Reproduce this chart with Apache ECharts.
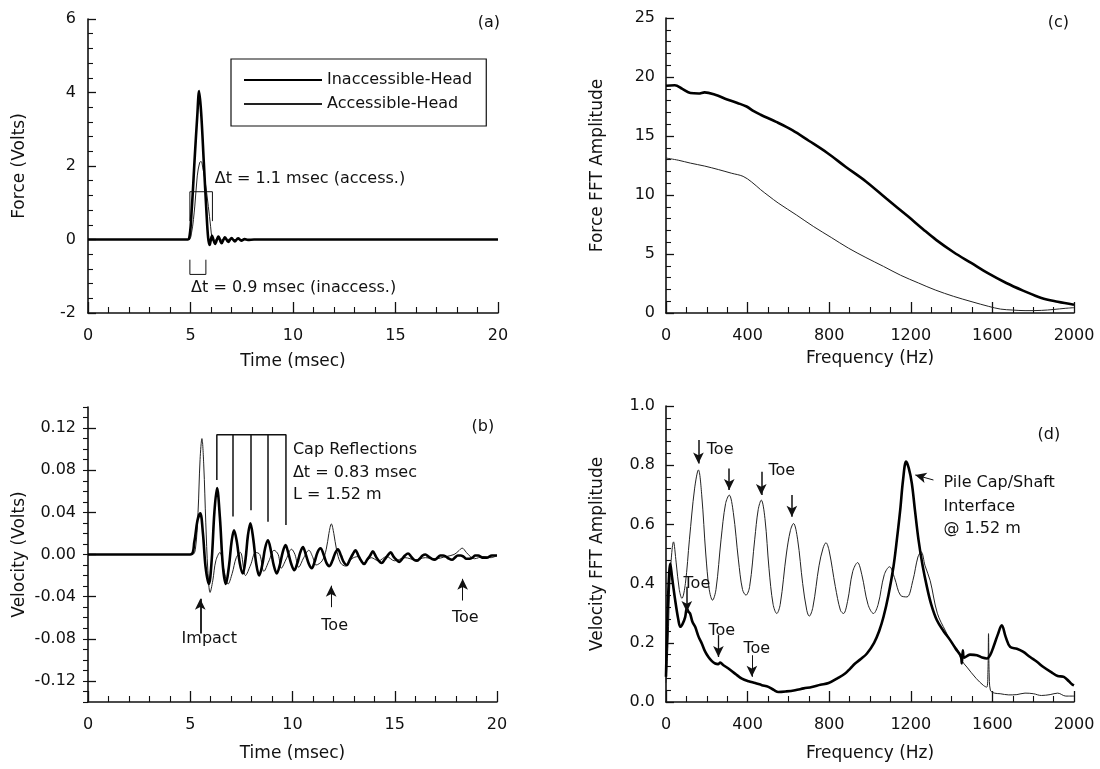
<!DOCTYPE html>
<html><head><meta charset="utf-8">
<script src="https://cdn.jsdelivr.net/npm/echarts@6/dist/echarts.min.js"></script>
<style>html,body{margin:0;padding:0;background:#fff}#chart{width:1100px;height:769px}</style>
</head><body><div id="chart"></div>
<script>
const FONT = '"DejaVu Sans", "Liberation Sans", sans-serif';
const C = '#111';

// ---- (a) Force vs time [msec, Volts]
const timeForceInacc = [[0,0],[4.8,0],[4.93,0.02],[5.05,0.73],[5.21,2.27],[5.33,3.36],[5.42,4.04],[5.52,3.45],[5.65,2.09],[5.78,0.73],[5.86,0.05],[5.93,-0.15],[6.05,0.1],[6.2,-0.12],[6.36,0.08],[6.52,-0.1],[6.68,0.06],[6.84,-0.07],[7.0,0.04],[7.16,-0.05],[7.32,0.03],[7.48,-0.03],[7.64,0.01],[7.8,-0.01],[8.1,0],[20,0]];
const timeForceAcc = [[0,0],[4.9,0],[5.05,0.18],[5.21,0.91],[5.33,1.73],[5.45,2.1],[5.52,2.12],[5.6,1.95],[5.7,1.64],[5.87,0.9],[5.98,0.36],[6.06,0.0],[6.15,-0.06],[6.3,0.03],[6.45,-0.03],[6.6,0.01],[7,0],[20,0]];

// ---- (b) Velocity vs time [msec, Volts]
const timeVelInacc = [[0,0],[5.0,0],[5.2,0.012],[5.35,0.032],[5.49,0.039],[5.62,0.02],[5.75,-0.012],[5.91,-0.028],[6.05,-0.005],[6.18,0.04],[6.31,0.063],[6.45,0.035],[6.6,-0.012],[6.74,-0.028],[6.9,-0.01],[7.02,0.012],[7.14,0.023],[7.28,0.012],[7.42,-0.008],[7.57,-0.018],[7.7,-0.005],[7.82,0.018],[7.94,0.0295],[8.08,0.015],[8.22,-0.008],[8.37,-0.02],[8.52,-0.01],[8.66,0.006],[8.8,0.0135],[8.95,0.003],[9.08,-0.01],[9.23,-0.018],[9.38,-0.01],[9.52,0.002],[9.66,0.009],[9.8,0.001],[9.94,-0.009],[10.09,-0.015],[10.24,-0.008],[10.38,0.002],[10.51,0.007],[10.65,0.0],[10.8,-0.009],[10.94,-0.013],[11.08,-0.007],[11.22,0.002],[11.37,0.006],[11.52,0.0],[11.66,-0.008],[11.8,-0.011],[11.95,-0.006],[12.08,0.001],[12.22,0.005],[12.37,-0.001],[12.5,-0.007],[12.65,-0.01],[12.8,-0.005],[12.94,0.0],[13.08,0.004],[13.22,-0.001],[13.36,-0.006],[13.5,-0.009],[13.65,-0.005],[13.8,-0.001],[13.93,0.003],[14.08,-0.002],[14.22,-0.006],[14.36,-0.008],[14.5,-0.005],[14.65,-0.001],[14.8,0.002],[14.94,-0.002],[15.08,-0.005],[15.22,-0.007],[15.37,-0.004],[15.5,-0.001],[15.65,0.001],[15.8,-0.002],[15.94,-0.005],[16.08,-0.006],[16.22,-0.004],[16.36,-0.001],[16.5,0.0],[16.65,-0.002],[16.8,-0.004],[16.94,-0.005],[17.1,-0.003],[17.22,-0.001],[17.36,-0.001],[17.5,-0.002],[17.65,-0.004],[17.8,-0.005],[17.94,-0.003],[18.08,-0.001],[18.22,-0.001],[18.36,-0.002],[18.5,-0.004],[18.65,-0.004],[18.8,-0.003],[18.94,-0.001],[19.08,-0.001],[19.3,-0.003],[19.5,-0.003],[19.75,-0.001],[20,-0.001]];
const timeVelAcc = [[0,0],[5.1,0],[5.25,0.005],[5.38,0.04],[5.48,0.09],[5.57,0.11],[5.66,0.085],[5.76,0.03],[5.86,-0.015],[5.97,-0.036],[6.1,-0.025],[6.25,-0.006],[6.45,0.002],[6.65,-0.015],[6.85,-0.028],[7.05,-0.018],[7.25,-0.003],[7.45,0.002],[7.7,-0.02],[7.95,-0.01],[8.2,0.002],[8.4,0.0],[8.6,-0.016],[8.85,-0.006],[9.1,0.004],[9.3,0.0],[9.45,-0.013],[9.7,-0.004],[9.95,0.005],[10.12,0.0],[10.3,-0.012],[10.55,-0.003],[10.8,0.004],[10.98,-0.002],[11.15,-0.01],[11.45,-0.006],[11.65,0.005],[11.78,0.02],[11.9,0.029],[12.02,0.02],[12.15,0.005],[12.35,-0.008],[12.6,-0.011],[12.9,-0.004],[13.2,-0.002],[13.5,-0.008],[13.85,-0.003],[14.2,-0.006],[14.6,-0.002],[15,-0.006],[15.5,-0.003],[16,-0.005],[16.5,-0.003],[17,-0.004],[17.5,-0.002],[17.9,0.0],[18.1,0.003],[18.3,0.006],[18.5,0.002],[18.7,-0.002],[18.9,-0.004],[19.3,-0.002],[19.7,-0.003],[20,-0.001]];

// ---- (c) Force FFT amplitude vs frequency [Hz]
const freqForceInacc = [[0,19.26],[43,19.3],[80,19.0],[120,18.64],[160,18.6],[189,18.7],[241,18.5],[300,18.1],[350,17.8],[395,17.5],[430,17.1],[464,16.8],[540,16.2],[619,15.5],[700,14.6],[791,13.56],[880,12.4],[980,11.15],[1080,9.7],[1186,8.19],[1260,7.1],[1324,6.2],[1410,5.15],[1496,4.24],[1580,3.35],[1668,2.54],[1750,1.9],[1840,1.27],[1920,0.95],[2000,0.7]];
const freqForceAcc = [[0,13.13],[60,12.95],[120,12.7],[190,12.45],[258,12.15],[320,11.85],[378,11.58],[420,11.1],[464,10.45],[505,9.9],[550,9.32],[640,8.3],[722,7.34],[810,6.4],[894,5.5],[980,4.7],[1066,3.95],[1150,3.2],[1238,2.54],[1320,1.95],[1410,1.41],[1500,0.95],[1582,0.56],[1640,0.33],[1700,0.25],[1760,0.2],[1840,0.22],[1900,0.3],[1960,0.4],[2000,0.45]];

// ---- (d) Velocity FFT amplitude vs frequency [Hz]
const freqVelInacc = [[0,0.085],[4,0.21],[10,0.35],[21,0.468],[30,0.42],[45,0.344],[60,0.28],[70,0.254],[82,0.265],[94,0.287],[102,0.316],[110,0.305],[118,0.299],[130,0.27],[143,0.254],[160,0.22],[176,0.197],[192,0.17],[208,0.152],[225,0.138],[241,0.13],[255,0.128],[266,0.133],[280,0.125],[306,0.113],[340,0.095],[372,0.079],[405,0.07],[437,0.064],[470,0.057],[502,0.051],[530,0.04],[551,0.034],[590,0.036],[633,0.04],[675,0.046],[715,0.051],[757,0.058],[797,0.064],[840,0.08],[878,0.096],[903,0.113],[927,0.13],[955,0.145],[985,0.164],[1020,0.2],[1045,0.24],[1066,0.287],[1090,0.36],[1115,0.457],[1132,0.55],[1148,0.648],[1162,0.75],[1177,0.812],[1190,0.79],[1205,0.739],[1220,0.65],[1238,0.547],[1258,0.46],[1279,0.389],[1300,0.33],[1328,0.276],[1360,0.24],[1393,0.209],[1420,0.18],[1445,0.155],[1450,0.13],[1455,0.175],[1462,0.15],[1490,0.16],[1524,0.158],[1550,0.15],[1573,0.147],[1590,0.16],[1605,0.186],[1625,0.225],[1646,0.259],[1665,0.22],[1687,0.186],[1720,0.18],[1750,0.17],[1785,0.152],[1820,0.135],[1850,0.118],[1890,0.1],[1920,0.088],[1950,0.085],[1975,0.07],[1990,0.06],[2000,0.056]];
const freqVelAcc = [[0,0.065],[10,0.2],[20,0.42],[37,0.541],[50,0.47],[65,0.38],[78,0.35],[95,0.4],[115,0.55],[140,0.72],[159,0.784],[175,0.7],[195,0.5],[212,0.38],[228,0.344],[245,0.38],[270,0.55],[292,0.67],[310,0.699],[330,0.64],[355,0.48],[375,0.38],[392,0.361],[410,0.39],[435,0.55],[452,0.65],[467,0.682],[485,0.62],[505,0.45],[525,0.33],[543,0.299],[560,0.33],[590,0.5],[610,0.58],[625,0.603],[645,0.55],[670,0.4],[690,0.31],[702,0.29],[720,0.32],[750,0.46],[770,0.52],[784,0.538],[800,0.51],[830,0.39],[855,0.31],[870,0.299],[890,0.34],[915,0.44],[939,0.471],[960,0.43],[990,0.33],[1017,0.299],[1040,0.33],[1070,0.43],[1096,0.457],[1120,0.42],[1150,0.36],[1181,0.355],[1210,0.41],[1235,0.49],[1251,0.507],[1270,0.46],[1295,0.41],[1330,0.3],[1370,0.24],[1400,0.2],[1426,0.18],[1450,0.14],[1475,0.118],[1520,0.08],[1556,0.056],[1572,0.05],[1578,0.1],[1581,0.231],[1584,0.1],[1590,0.04],[1610,0.03],[1638,0.028],[1680,0.024],[1720,0.025],[1760,0.03],[1801,0.028],[1840,0.022],[1883,0.025],[1920,0.03],[1960,0.02],[2000,0.02]];

// ---- tick label values
const velLabelValues = [-0.12,-0.08,-0.04,0,0.04,0.08,0.12];

// ---- annotation geometry (data coordinates)
const bracketAccess = [[4.97,0.5],[4.97,1.3],[6.07,1.3],[6.07,0.5]];
const bracketInaccess = [[4.97,-0.55],[4.97,-0.95],[5.75,-0.95],[5.75,-0.55]];
const capBracket = [[6.3,0.0707],[6.3,0.1137],[9.68,0.1137],[9.68,0.028]];
const capTicks = [[7.1,0.036],[7.95,0.042],[8.77,0.031]];
const capTop = 0.1137;
const arrowsB = [ {from:[5.49,-0.0751],to:[5.49,-0.042],w:1.8}, {from:[11.89,-0.05],to:[11.89,-0.0296],w:1}, {from:[18.32,-0.0437],to:[18.32,-0.0231],w:1} ];
const arrowsD = [ {from:[159,0.885],to:[159,0.806],w:1.5}, {from:[310,0.789],to:[310,0.716],w:1.5}, {from:[467,0.778],to:[467,0.699],w:1.5}, {from:[617,0.699],to:[617,0.626],w:1.5}, {from:[102,0.389],to:[102,0.304],w:1.5}, {from:[257,0.226],to:[257,0.152],w:1.3}, {from:[421,0.158],to:[421,0.085],w:1}, {from:[1311,0.75],to:[1222,0.767],w:1} ];
const texts = [
  {p:0, x:20.1, y:5.89, t:'(a)', a:'right'},
  {p:0, x:6.18, y:1.64, t:'\u0394t = 1.1 msec (access.)'},
  {p:0, x:5.03, y:-1.31, t:'\u0394t = 0.9 msec (inaccess.)'},
  {p:1, x:19.86, y:0.1216, t:'(b)', a:'right'},
  {p:1, x:10.02, y:0.0994, t:'Cap Reflections'},
  {p:1, x:10.02, y:0.0771, t:'\u0394t = 0.83 msec'},
  {p:1, x:10.02, y:0.0564, t:'L = 1.52 m'},
  {p:1, x:5.93, y:-0.0802, t:'Impact', a:'center'},
  {p:1, x:12.06, y:-0.0675, t:'Toe', a:'center'},
  {p:1, x:18.45, y:-0.0602, t:'Toe', a:'center'},
  {p:2, x:1976, y:24.58, t:'(c)', a:'right'},
  {p:3, x:1932, y:0.902, t:'(d)', a:'right'},
  {p:3, x:200, y:0.851, t:'Toe'},
  {p:3, x:502, y:0.781, t:'Toe'},
  {p:3, x:86, y:0.4, t:'Toe'},
  {p:3, x:208, y:0.242, t:'Toe'},
  {p:3, x:380, y:0.181, t:'Toe'},
  {p:3, x:1360, y:0.739, t:'Pile Cap/Shaft'},
  {p:3, x:1360, y:0.659, t:'Interface'},
  {p:3, x:1360, y:0.586, t:'@ 1.52 m'}
];

const grids = [
  {left:88, top:19, width:410, height:294},
  {left:88, top:407, width:409, height:295},
  {left:666, top:18, width:408, height:295},
  {left:666, top:406, width:408, height:296}
].map(g => Object.assign({outerBoundsMode:'none', containLabel:false}, g));

function xAx(gi, max, interval, name, gap) {
  return { type:'value', gridIndex:gi, min:0, max:max, interval:interval, name:name, nameLocation:'middle', nameGap:gap,
    nameTextStyle:{fontFamily:FONT, fontSize:17, color:C},
    axisLine:{onZero:false, lineStyle:{color:C, width:1.6}},
    axisTick:{inside:true, length:11, lineStyle:{color:C, width:1.3}},
    minorTick:{show:true, splitNumber:interval === 5 ? 5 : 4, length:6, lineStyle:{color:C, width:1.1}},
    axisLabel:{margin:15, fontFamily:FONT, fontSize:16, color:C, formatter: v => String(v)},
    splitLine:{show:false}, minorSplitLine:{show:false} };
}
function yAx(gi, min, max, interval, name, minorSplit, fmt, margin) {
  return { type:'value', gridIndex:gi, min:min, max:max, interval:interval, name:name, nameLocation:'middle', nameGap:60,
    nameTextStyle:{fontFamily:FONT, fontSize:17, color:C},
    axisLine:{onZero:false, lineStyle:{color:C, width:1.6}},
    axisTick:{inside:true, length:8, lineStyle:{color:C, width:1.3}},
    minorTick:{show:true, splitNumber:minorSplit, length:5, lineStyle:{color:C, width:1.1}},
    axisLabel:{margin:margin, fontFamily:FONT, fontSize:16, color:C, formatter:fmt},
    splitLine:{show:false}, minorSplitLine:{show:false} };
}

const yB = yAx(1, -0.14, 0.14, 0.04, 'Velocity (Volts)', 2, v => v.toFixed(2), 12);
delete yB.interval;
yB.minorTick = {show:false};
yB.axisTick.customValues = velLabelValues;
yB.axisLabel.customValues = velLabelValues;
const yBMinor = { type:'value', gridIndex:1, min:-0.14, max:0.14, interval:0.01,
  axisLine:{show:false}, axisLabel:{show:false}, splitLine:{show:false},
  axisTick:{inside:true, length:5, lineStyle:{color:C, width:1.1}} };

function thick(name, xi, data) {
  return {type:'line', name:name, xAxisIndex:xi, yAxisIndex:xi, data:data, symbol:'none', smooth:0.35,
    lineStyle:{color:'#000', width:2.6}, itemStyle:{color:'#000'}, z:4, silent:true};
}
function thin(name, xi, data) {
  return {type:'line', name:name, xAxisIndex:xi, yAxisIndex:xi, data:data, symbol:'none', smooth:0.35,
    lineStyle:{color:'#222', width:1}, itemStyle:{color:'#222'}, z:3, silent:true};
}
function seg(xi, data, w) {
  return {type:'line', name:'_ann', xAxisIndex:xi, yAxisIndex:xi, data:data, symbol:'none',
    lineStyle:{color:C, width:w}, z:5, silent:true};
}
function arrowMark(list) {
  return { silent:true, animation:false, symbol:['none','arrow'], symbolSize:[8,11], label:{show:false},
    data: list.map(a => [ {coord:a.from, lineStyle:{width:a.w, color:C, type:'solid'}}, {coord:a.to} ]) };
}

const capSeries = seg(1, capBracket, 1.5);
capSeries.markLine = { silent:true, animation:false, symbol:['none','none'], label:{show:false},
  lineStyle:{color:C, width:1.5, type:'solid'},
  data: capTicks.map(p => [{coord:[p[0], capTop]}, {coord:p}]) };
const arrowSeriesB = seg(1, [], 1); arrowSeriesB.markLine = arrowMark(arrowsB);
const accD = thin('Accessible-Head', 3, freqVelAcc); accD.markLine = arrowMark(arrowsD);

const option = {
  animation:false,
  backgroundColor:'#fff',
  grid: grids,
  legend: { data:['Inaccessible-Head','Accessible-Head'], orient:'vertical', left:231, top:59,
    padding:[13,14,14,12], itemWidth:78, itemHeight:14, itemGap:8, borderColor:C, borderWidth:1.2,
    selectedMode:false, itemStyle:{opacity:0, borderWidth:0},
    textStyle:{fontFamily:FONT, fontSize:16, color:C} },
  xAxis: [ xAx(0, 20, 5, 'Time (msec)', 40), xAx(1, 20, 5, 'Time (msec)', 43),
           xAx(2, 2000, 400, 'Frequency (Hz)', 37), xAx(3, 2000, 400, 'Frequency (Hz)', 43) ],
  yAxis: [ yAx(0, -2, 6, 2, 'Force (Volts)', 5, v => String(v), 12), yB,
           yAx(2, 0, 25, 5, 'Force FFT Amplitude', 5, v => String(v), 11),
           yAx(3, 0, 1, 0.2, 'Velocity FFT Amplitude', 5, v => v.toFixed(1), 11), yBMinor ],
  series: [
    thin('Accessible-Head', 0, timeForceAcc), thick('Inaccessible-Head', 0, timeForceInacc),
    seg(0, bracketAccess, 1), seg(0, bracketInaccess, 1),
    thin('Accessible-Head', 1, timeVelAcc), thick('Inaccessible-Head', 1, timeVelInacc),
    capSeries, arrowSeriesB,
    thin('Accessible-Head', 2, freqForceAcc), thick('Inaccessible-Head', 2, freqForceInacc),
    accD, thick('Inaccessible-Head', 3, freqVelInacc)
  ]
};

const chart = echarts.init(document.getElementById('chart'), null, {renderer:'canvas'});
chart.setOption(option);
const gfx = texts.map(t => {
  const p = chart.convertToPixel({xAxisIndex:t.p, yAxisIndex:t.p}, [t.x, t.y]);
  return {type:'text', x:p[0], y:p[1], silent:true, z:10,
    style:{text:t.t, fill:C, fontSize:16, fontFamily:FONT, align:t.a || 'left', verticalAlign:'middle'}};
});
chart.setOption({graphic: gfx});
</script></body></html>
